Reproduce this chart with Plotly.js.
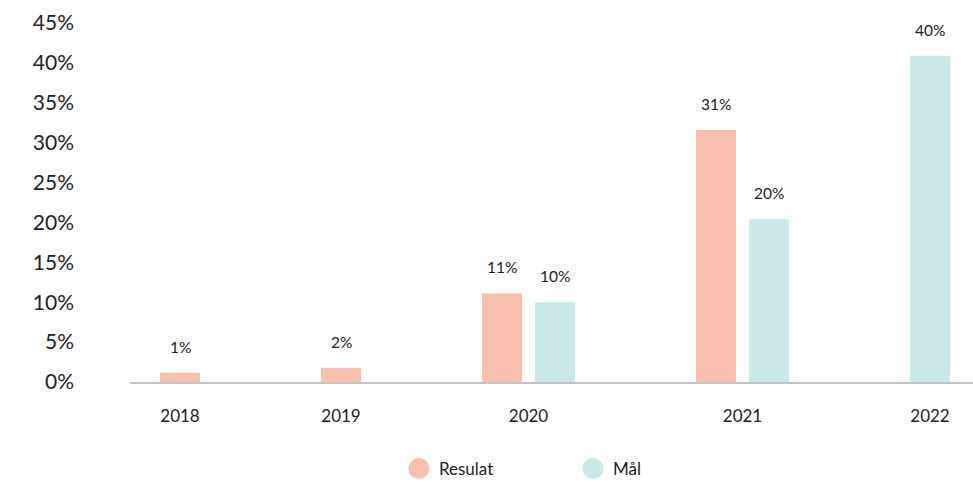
<!DOCTYPE html>
<html>
<head>
<meta charset="utf-8">
<script src="https://cdn.plot.ly/plotly-3.0.1.min.js"></script>
<style>html,body{margin:0;padding:0;background:#fff;}#chart{width:973px;height:482px;}</style>
</head>
<body>
<div id="chart"></div>
<script>
// ---- data ----
const years = ['2018', '2019', '2020', '2021', '2022'];
const resultat = [1.15, 1.8, 11.1, 31.6, null];
const maal = [null, null, 10.0, 20.4, 40.9];
const resultatLabels = ['1%', '2%', '11%', '31%', null];
const maalLabels = [null, null, '10%', '20%', '40%'];
const yTicks = [0, 5, 10, 15, 20, 25, 30, 35, 40, 45];
const yTickLabels = ['0%', '5%', '10%', '15%', '20%', '25%', '30%', '35%', '40%', '45%'];
const seriesNames = ['Resulat', 'Mål'];

// ---- style constants ----
const FONT = 'Lato, "Open Sans", sans-serif';
const C_RES = '#F8BEAE';
const C_MAL = '#C9E8E9';
const BAR_W = 40, BAR_GAP = 13, SLOT_PAD = 121;

// category slot layout computed from how many bars each year has
const counts = years.map((_, i) => (resultat[i] != null ? 1 : 0) + (maal[i] != null ? 1 : 0));
const slotW = counts.map(n => n * BAR_W + (n - 1) * BAR_GAP + SLOT_PAD);
const centers = [];
slotW.forEach((w, i) => {
  centers.push(i === 0 ? 0 : centers[i - 1] + (slotW[i - 1] + w) / 2);
});
const half = (BAR_W + BAR_GAP) / 2;
const resX = centers.map((c, i) => counts[i] === 2 ? c - half : c);
const malX = centers.map((c, i) => counts[i] === 2 ? c + half : c);

const traces = [
  {type: 'bar', x: resX, y: resultat, width: BAR_W, name: seriesNames[0],
   marker: {color: C_RES}, showlegend: false, hoverinfo: 'skip'},
  {type: 'bar', x: malX, y: maal, width: BAR_W, name: seriesNames[1],
   marker: {color: C_MAL}, showlegend: false, hoverinfo: 'skip'},
  {type: 'scatter', mode: 'markers', x: [null], y: [null], name: seriesNames[0],
   marker: {color: C_RES, size: 16, symbol: 'circle', line: {color: C_RES, width: 5}}},
  {type: 'scatter', mode: 'markers', x: [null], y: [null], name: seriesNames[1],
   marker: {color: C_MAL, size: 16, symbol: 'circle', line: {color: C_MAL, width: 5}}}
];

const labelFont = {family: FONT, size: 15.5, color: '#222'};
const annotations = [];
years.forEach((_, i) => {
  if (resultat[i] != null) annotations.push({x: resX[i], y: resultat[i], text: resultatLabels[i],
    showarrow: false, yshift: 26, yanchor: 'middle', xanchor: 'center', font: labelFont});
  if (maal[i] != null) annotations.push({x: malX[i], y: maal[i], text: maalLabels[i],
    showarrow: false, yshift: 26, yanchor: 'middle', xanchor: 'center', font: labelFont});
});

const layout = {
  width: 973, height: 482,
  margin: {l: 130, r: 0, t: 23, b: 99.5, pad: 0, autoexpand: false},
  paper_bgcolor: '#fff', plot_bgcolor: '#fff',
  font: {family: FONT, color: '#222'},
  barmode: 'overlay',
  xaxis: {
    range: [centers[0] - 50, centers[centers.length - 1] + 43],
    tickmode: 'array', tickvals: centers, ticktext: years,
    showgrid: false, zeroline: false,
    showline: true, linecolor: '#c2c2c2', linewidth: 2,
    ticks: '', ticklabelstandoff: 18,
    tickfont: {family: FONT, size: 17, color: '#222'},
    fixedrange: true
  },
  yaxis: {
    range: [0, 45], tickmode: 'array', tickvals: yTicks, ticktext: yTickLabels,
    showgrid: false, zeroline: false, showline: false,
    ticks: '', ticklabelstandoff: 55,
    tickfont: {family: FONT, size: 21, color: '#222'},
    fixedrange: true
  },
  showlegend: true,
  legend: {
    orientation: 'h', xref: 'container', yref: 'container',
    x: 0.410, xanchor: 'left', y: 0.027, yanchor: 'middle',
    entrywidth: 129, entrywidthmode: 'pixels',
    font: {family: FONT, size: 17, color: '#222'},
    bgcolor: 'rgba(0,0,0,0)'
  },
  annotations: annotations
};

Plotly.newPlot('chart', traces, layout, {displayModeBar: false, staticPlot: true});
</script>
</body>
</html>
